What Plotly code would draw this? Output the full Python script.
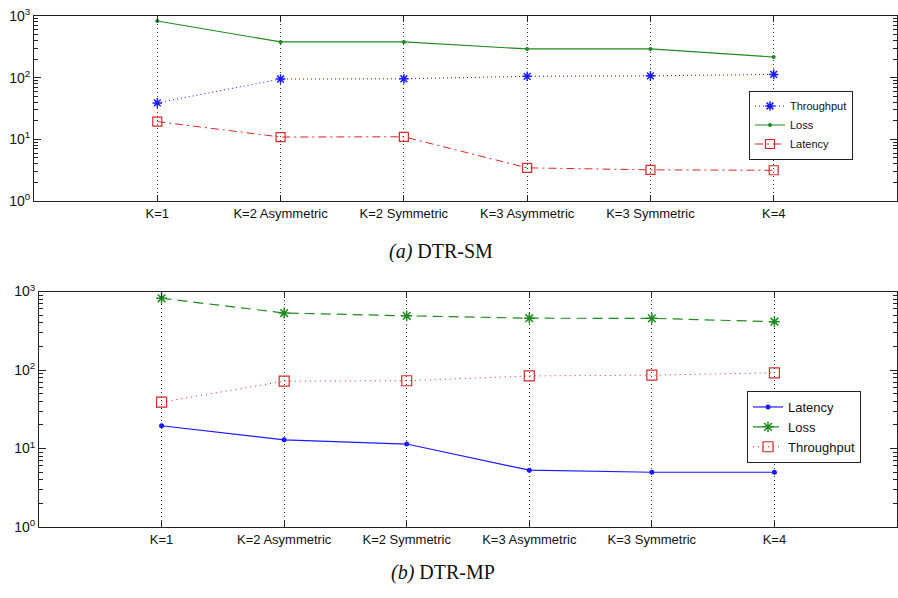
import plotly.graph_objects as go

categories = ["K=1", "K=2 Asymmetric", "K=2 Symmetric", "K=3 Asymmetric", "K=3 Symmetric", "K=4"]

# (a) DTR-SM
sm_throughput = [39, 95, 96, 105, 107, 113]
sm_loss = [830, 380, 380, 292, 292, 216]
sm_latency = [19.4, 10.9, 11.0, 3.45, 3.2, 3.15]

# (b) DTR-MP
mp_latency = [19.5, 12.9, 11.4, 5.3, 4.98, 4.98]
mp_loss = [820, 532, 490, 457, 455, 412]
mp_throughput = [39, 72, 73, 84, 86, 92]

y_tickvals = [1, 10, 100, 1000]
y_ticktext = ["10<sup>0</sup>", "10<sup>1</sup>", "10<sup>2</sup>", "10<sup>3</sup>"]

BLUE = "#1a1aff"
GREEN = "#1f8a1f"
RED = "#d42a2a"

W, H = 898, 598

fig = go.Figure()

# top panel
fig.add_trace(go.Scatter(x=categories, y=sm_throughput, name="Throughput", mode="lines+markers",
                         line=dict(color=BLUE, width=1, dash="1px,3px"),
                         marker=dict(symbol="asterisk-open", size=8, line=dict(color=BLUE, width=1.5)),
                         xaxis="x", yaxis="y", legend="legend"))
fig.add_trace(go.Scatter(x=categories, y=sm_loss, name="Loss", mode="lines+markers",
                         line=dict(color=GREEN, width=1.2),
                         marker=dict(symbol="circle", size=4, color=GREEN),
                         xaxis="x", yaxis="y", legend="legend"))
fig.add_trace(go.Scatter(x=categories, y=sm_latency, name="Latency", mode="lines+markers",
                         line=dict(color=RED, width=1, dash="8px,4px,2px,4px"),
                         marker=dict(symbol="square-open", size=9, line=dict(color=RED, width=1.2)),
                         xaxis="x", yaxis="y", legend="legend"))

# bottom panel
fig.add_trace(go.Scatter(x=categories, y=mp_latency, name="Latency", mode="lines+markers",
                         line=dict(color=BLUE, width=1.2),
                         marker=dict(symbol="circle", size=5, color=BLUE),
                         xaxis="x2", yaxis="y2", legend="legend2"))
fig.add_trace(go.Scatter(x=categories, y=mp_loss, name="Loss", mode="lines+markers",
                         line=dict(color=GREEN, width=1.2, dash="10px,6px"),
                         marker=dict(symbol="asterisk-open", size=9, line=dict(color=GREEN, width=1.5)),
                         xaxis="x2", yaxis="y2", legend="legend2"))
fig.add_trace(go.Scatter(x=categories, y=mp_throughput, name="Throughput", mode="lines+markers",
                         line=dict(color=RED, width=1, dash="1px,4px"),
                         marker=dict(symbol="square-open", size=10, line=dict(color=RED, width=1.2)),
                         xaxis="x2", yaxis="y2", legend="legend2"))


def xaxis_style(domain):
    return dict(domain=domain, type="category", range=[-1, 6], showline=True, mirror="allticks",
                linecolor="#222", linewidth=1, ticks="inside", ticklen=6, tickwidth=1, tickcolor="#222",
                showgrid=True, gridcolor="#333", griddash="1px,3px", gridwidth=1, zeroline=False,
                automargin=False,
                tickfont=dict(family="Liberation Sans, Arial", size=13, color="#111"))


def yaxis_style(domain, anchor):
    return dict(domain=domain, type="log", range=[0, 3], anchor=anchor, showline=True, mirror="allticks",
                linecolor="#222", linewidth=1, ticks="inside", ticklen=7, tickwidth=1, tickcolor="#222",
                tickmode="array", tickvals=y_tickvals, ticktext=y_ticktext, showgrid=False, zeroline=False,
                automargin=False,
                minor=dict(ticks="inside", ticklen=4, tickwidth=1, tickcolor="#222", dtick="D1", showgrid=False),
                tickfont=dict(family="Liberation Sans, Arial", size=14, color="#111"))


top_dom = [1 - 201 / H, 1 - 16 / H]
bot_dom = [1 - 527 / H, 1 - 291.5 / H]

fig.update_layout(
    width=W, height=H, margin=dict(l=0, r=0, t=0, b=0, autoexpand=False),
    paper_bgcolor="white", plot_bgcolor="white", showlegend=True,
    xaxis=dict(**xaxis_style([34 / W, 897 / W]), anchor="y"),
    yaxis=yaxis_style(top_dom, "x"),
    xaxis2=dict(**xaxis_style([39 / W, 897 / W]), anchor="y2"),
    yaxis2=yaxis_style(bot_dom, "x2"),
    legend=dict(x=749 / W, y=1 - 90.5 / H, xanchor="left", yanchor="top", bgcolor="white",
                bordercolor="#222", borderwidth=1, font=dict(family="Liberation Sans, Arial", size=11, color="#111"),
                tracegroupgap=0, itemwidth=30),
    legend2=dict(x=747 / W, y=1 - 391 / H, xanchor="left", yanchor="top", bgcolor="white",
                 bordercolor="#222", borderwidth=1, font=dict(family="Liberation Sans, Arial", size=13, color="#111"),
                 tracegroupgap=0, itemwidth=30),
    annotations=[
        dict(text="<i>(a)</i> DTR-SM", x=441 / W, y=1 - 252 / H, xref="paper", yref="paper",
             showarrow=False, font=dict(family="Liberation Serif, Times New Roman", size=20, color="#111")),
        dict(text="<i>(b)</i> DTR-MP", x=443 / W, y=1 - 586 / H, xref="paper", yref="paper",
             showarrow=False, font=dict(family="Liberation Serif, Times New Roman", size=20, color="#111")),
    ],
)

fig.write_html("out.html")
